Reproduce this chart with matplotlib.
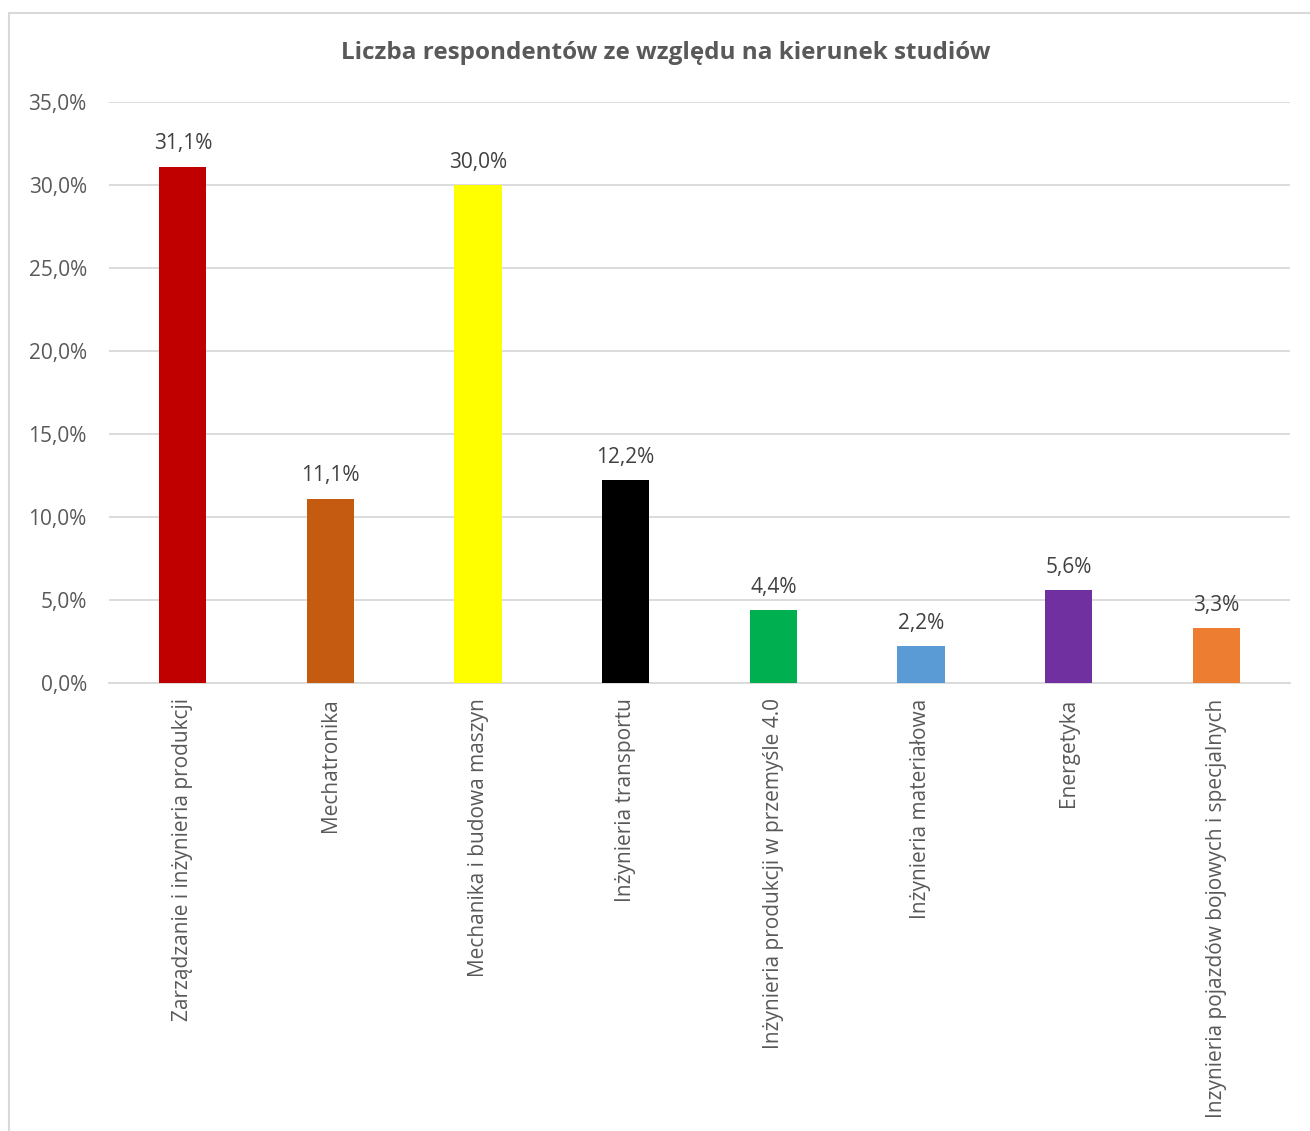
import matplotlib.pyplot as plt
from matplotlib.patches import Rectangle

kierunki = [
    "Zarządzanie i inżynieria produkcji",
    "Mechatronika",
    "Mechanika i budowa maszyn",
    "Inżynieria transportu",
    "Inżynieria produkcji w przemyśle 4.0",
    "Inżynieria materiałowa",
    "Energetyka",
    "Inzynieria pojazdów bojowych i specjalnych",
]
procent = [31.1, 11.1, 30.0, 12.2, 4.4, 2.2, 5.6, 3.3]
kolory = ["#C00000", "#C55A11", "#FFFF00", "#000000",
          "#00B050", "#5B9BD5", "#7030A0", "#ED7D31"]
y_ticks = [0, 5, 10, 15, 20, 25, 30, 35]

plt.rcParams["font.family"] = ["Open Sans", "DejaVu Sans"]
grey = "#595959"

fig = plt.figure(figsize=(13.1, 11.31), dpi=100)
ax = fig.add_axes([0.0832, 0.3961, 0.9015, 0.5137])

# chart frame (runs past the right and bottom edge)
fig.patches.append(Rectangle((9 / 1310, -0.1), 1.2, 1 - 13 / 1131 + 0.1,
                             transform=fig.transFigure, fill=False,
                             edgecolor="#d9d9d9", linewidth=1.5))

x = range(len(kierunki))
ax.bar(x, procent, width=0.32, color=kolory, zorder=3)

for i, v in zip(x, procent):
    ax.text(i, v + 0.75, f"{v:.1f}%".replace(".", ","), ha="center",
            va="bottom", fontsize=15, color="#404040")

ax.set_xlim(-0.5, len(kierunki) - 0.5)
ax.set_ylim(0, 35)
ax.set_yticks(y_ticks)
ax.set_yticklabels([f"{t:.1f}%".replace(".", ",") for t in y_ticks],
                   fontsize=15, color=grey)
ax.set_xticks(list(x))
ax.set_xticklabels(kierunki, rotation=90, fontsize=15, color=grey, va="top")
ax.tick_params(axis="both", length=0)
ax.tick_params(axis="y", pad=16)
ax.tick_params(axis="x", pad=11)

ax.grid(axis="y", color="#d9d9d9", linewidth=1.3, zorder=0)
for s in ["top", "right", "left"]:
    ax.spines[s].set_visible(False)
ax.spines["bottom"].set_color("#d9d9d9")
ax.spines["bottom"].set_linewidth(1.3)

fig.text(0.508, 1 - 53 / 1131, "Liczba respondentów ze względu na kierunek studiów",
         ha="center", va="center", fontsize=17.5, fontweight="bold", color=grey)

fig.savefig("out.png", dpi=100)
